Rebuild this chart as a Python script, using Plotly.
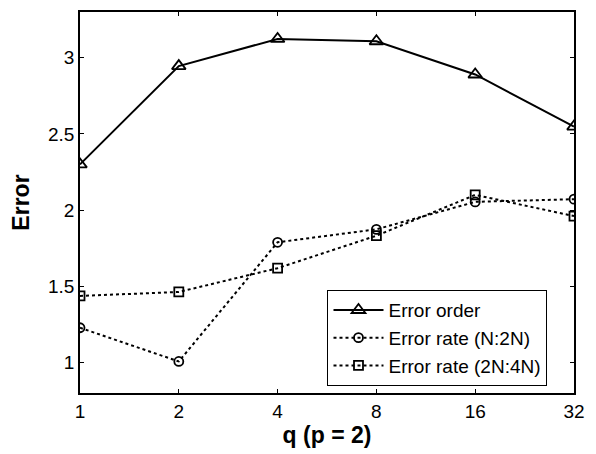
import plotly.graph_objects as go

q_values = [1, 2, 4, 8, 16, 32]
q_labels = ["1", "2", "4", "8", "16", "32"]
error_order = [2.30, 2.945, 3.123, 3.108, 2.89, 2.548]
rate_n_2n = [1.228, 1.007, 1.789, 1.874, 2.054, 2.072]
rate_2n_4n = [1.437, 1.463, 1.619, 1.832, 2.10, 1.961]
y_ticks = [1, 1.5, 2, 2.5, 3]
y_labels = ["1", "1.5", "2", "2.5", "3"]

FONT = "Arial, Liberation Sans, sans-serif"

fig = go.Figure()
fig.add_trace(go.Scatter(
    x=q_values, y=error_order, name="Error order", mode="lines+markers",
    line=dict(color="black", width=2),
    marker=dict(symbol="triangle-up-open", size=12, color="black", line=dict(width=1.8, color="black")),
))
fig.add_trace(go.Scatter(
    x=q_values, y=rate_n_2n, name="Error rate (N:2N)", mode="lines+markers",
    line=dict(color="black", width=2, dash="dot"),
    marker=dict(symbol="circle-open", size=9, color="black", line=dict(width=1.8, color="black")),
))
fig.add_trace(go.Scatter(
    x=q_values, y=rate_2n_4n, name="Error rate (2N:4N)", mode="lines+markers",
    line=dict(color="black", width=2, dash="dot"),
    marker=dict(symbol="square-open", size=9, color="black", line=dict(width=1.8, color="black")),
))

fig.update_layout(
    width=596, height=454,
    margin=dict(l=80, r=22, t=10, b=61),
    paper_bgcolor="white", plot_bgcolor="white",
    font=dict(family=FONT, size=19, color="black"),
    showlegend=True,
    legend=dict(
        x=0.501, y=0.270, xanchor="left", yanchor="top",
        bordercolor="black", borderwidth=1, bgcolor="white",
        font=dict(family=FONT, size=19, color="black"),
        tracegroupgap=0, itemwidth=50,
    ),
)
fig.update_xaxes(
    type="log", range=[0, 1.50515], tickvals=q_values, ticktext=q_labels,
    showline=True, linecolor="black", linewidth=1.5, mirror="ticks",
    ticks="inside", ticklen=4, tickcolor="black", showgrid=False, zeroline=False,
    tickfont=dict(family=FONT, size=19),
    title=dict(text="<b>q (p = 2)</b>", font=dict(family=FONT, size=23), standoff=5),
)
fig.update_yaxes(
    range=[0.8, 3.3], tickvals=y_ticks, ticktext=y_labels,
    showline=True, linecolor="black", linewidth=1.5, mirror="ticks",
    ticks="inside", ticklen=4, tickcolor="black", showgrid=False, zeroline=False,
    tickfont=dict(family=FONT, size=19),
    title=dict(text="<b>Error</b>", font=dict(family=FONT, size=23), standoff=12),
)

fig.write_html("out.html")
